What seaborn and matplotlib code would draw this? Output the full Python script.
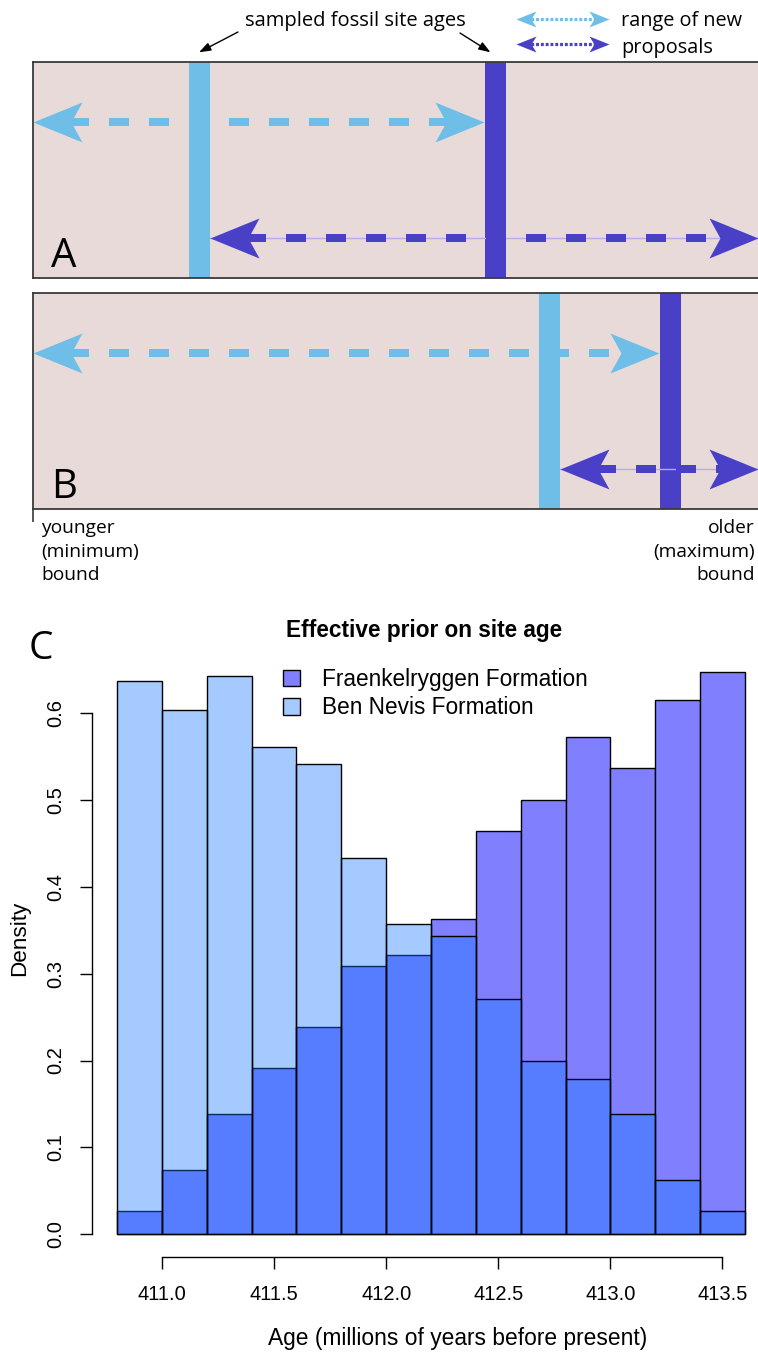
import numpy as np
import matplotlib
matplotlib.use("Agg")
import matplotlib.pyplot as plt
from matplotlib.path import Path
import seaborn as sns

# ── data ──
# histogram bins (left edges, width 0.2 Myr) and densities
bin_left = [410.8, 411.0, 411.2, 411.4, 411.6, 411.8, 412.0,
            412.2, 412.4, 412.6, 412.8, 413.0, 413.2, 413.4]
bin_width = 0.2
fraenkel = [0.027, 0.074, 0.138, 0.191, 0.238, 0.309, 0.321,
            0.363, 0.464, 0.499, 0.572, 0.536, 0.614, 0.647]
ben_nevis = [0.636, 0.603, 0.642, 0.561, 0.541, 0.433, 0.357,
             0.343, 0.271, 0.199, 0.179, 0.138, 0.063, 0.027]
x_ticks = [411.0, 411.5, 412.0, 412.5, 413.0, 413.5]
y_ticks = [0.0, 0.1, 0.2, 0.3, 0.4, 0.5, 0.6]

# schematic panels A/B: site ages as fraction of the (minimum, maximum) bound range
panel_names = ["A", "B"]
site_light = [0.229, 0.712]   # Ben Nevis-like site (light blue)
site_dark = [0.637, 0.878]    # Fraenkelryggen-like site (dark blue)

# ── style ──
W, H = 758, 1353
LIGHT, DARK = "#6EBEE8", "#4A40C8"
BOX = "#E9DADA"
PURPLE = "#8080FF"
BN_RGB = (20 / 255, 118 / 255, 1.0)
BN_ALPHA = 0.38
PX = 72 / 100   # points per pixel at dpi 100

sns.set_style("white")
plt.rcParams["font.family"] = ["Liberation Sans", "DejaVu Sans"]
plt.rcParams["text.color"] = "black"
plt.rcParams["axes.labelcolor"] = "black"
SCHEM_FONT = ["Open Sans", "DejaVu Sans"]

fig = plt.figure(figsize=(W / 100, H / 100), dpi=100)


def fig_box(x0, y0, x1, y1):
    """pixel box (top-left origin) -> figure fraction rect"""
    return [x0 / W, 1 - y1 / H, (x1 - x0) / W, (y1 - y0) / H]


def head(direction, length=49, half=20, notch=38):
    s = 1 if direction == "right" else -1
    verts = [(0, 0), (-s * length, half), (-s * notch, 0), (-s * length, -half), (0, 0)]
    codes = [Path.MOVETO, Path.LINETO, Path.LINETO, Path.LINETO, Path.CLOSEPOLY]
    return Path(verts, codes)


HEAD_R, HEAD_L = head("right"), head("left")
HALF_BAR = 10.5 / 725   # half width of site bar in panel units

# ── panels A and B ──
panel_axes = []
for i, name in enumerate(panel_names):
    top = 62 + i * 231
    ax = fig.add_axes(fig_box(33, top, 758, top + 216))
    ax.set_facecolor(BOX)
    ax.set_xlim(0, 1)
    ax.set_ylim(0, 1)
    for side in ["top", "left", "bottom"]:
        ax.spines[side].set_color("#3a3a3a")
        ax.spines[side].set_linewidth(1.3)
    ax.spines["right"].set_visible(False)
    ax.set_yticks([])
    ax.set_xticks([])

    ax.axvline(site_light[i], color=LIGHT, lw=21 * PX, zorder=2)
    ax.axvline(site_dark[i], color=DARK, lw=21 * PX, zorder=2)

    # range of new proposals for the light site: min bound -> dark site
    yl = 0.72
    x0, x1 = 0.0, site_dark[i] - HALF_BAR
    ax.plot([x0 + 0.05, x1 - 0.05], [yl, yl], color=LIGHT, lw=8 * PX,
            dashes=(2.5, 2.5), dash_capstyle="butt", zorder=3)
    ax.plot([x0], [yl], marker=HEAD_L, ms=98 * PX, color=LIGHT, mew=0, zorder=4, clip_on=False)
    ax.plot([x1], [yl], marker=HEAD_R, ms=98 * PX, color=LIGHT, mew=0, zorder=4, clip_on=False)

    # range of new proposals for the dark site: light site -> max bound
    yd = 0.185
    x0, x1 = site_light[i] + HALF_BAR, 1.0
    ax.plot([x0, x1], [yd, yd], color="#B4ACE6", lw=1.0, zorder=3)
    ax.plot([x0 + 0.05, x1 - 0.05], [yd, yd], color=DARK, lw=8 * PX,
            dashes=(2.5, 2.5), dash_capstyle="butt", zorder=3)
    ax.plot([x0], [yd], marker=HEAD_L, ms=98 * PX, color=DARK, mew=0, zorder=4, clip_on=False)
    ax.plot([x1], [yd], marker=HEAD_R, ms=98 * PX, color=DARK, mew=0, zorder=4, clip_on=False)

    ax.text(0.025, 0.05, name, transform=ax.transAxes, fontsize=29,
            family=SCHEM_FONT, color="black", va="baseline", ha="left")
    panel_axes.append(ax)

axA, axB = panel_axes

# pointer arrows from the caption to the site bars in panel A
fig.text(355 / W, 1 - 21 / H, "sampled fossil site ages", ha="center", va="center",
         fontsize=14.5, family=SCHEM_FONT)
for sx, txt_xy in [(site_light[0], (238, 32)), (site_dark[0] - 0.006, (460, 33))]:
    axA.annotate("", xy=(sx, 1.045), xycoords=("data", "axes fraction"),
                 xytext=(txt_xy[0], H - txt_xy[1]), textcoords="figure pixels",
                 arrowprops=dict(arrowstyle="-|>,head_length=0.7,head_width=0.25",
                                 color="black", lw=1.0, shrinkA=0, shrinkB=0))

# bottom bound tick and labels under panel B
axB.set_xticks([0.0])
axB.tick_params(axis="x", direction="out", length=13 * PX, width=1.2,
                color="#3a3a3a", labelbottom=False, bottom=True)
for k, (left_txt, right_txt) in enumerate([("younger", "older"),
                                          ("(minimum)", "(maximum)"),
                                          ("bound", "bound")]):
    yy = 1 - (528 + k * 23.5) / H
    fig.text(41 / W, yy, left_txt, ha="left", va="center", fontsize=13.8, family=SCHEM_FONT)
    fig.text(755 / W, yy, right_txt, ha="right", va="center", fontsize=13.8, family=SCHEM_FONT)

# small legend arrows, top right
leg = fig.add_axes([0, 0, 1, 1], zorder=5)
leg.set_xlim(0, W)
leg.set_ylim(H, 0)
leg.axis("off")
small_r = head("right", 20, 8, 15)
small_l = head("left", 20, 8, 15)
for yy, col in [(19, LIGHT), (44, DARK)]:
    leg.plot([526, 599], [yy, yy], color=col, lw=3.2 * PX, dashes=(0.9, 0.6),
             dash_capstyle="butt")
    leg.plot([516], [yy], marker=small_l, ms=40 * PX, color=col, mew=0)
    leg.plot([609], [yy], marker=small_r, ms=40 * PX, color=col, mew=0)
leg.text(621, 21, "range of new", ha="left", va="center", fontsize=14.3, family=SCHEM_FONT)
leg.text(621, 48, "proposals", ha="left", va="center", fontsize=14.3, family=SCHEM_FONT)

fig.text(29 / W, 1 - 649 / H, "C", ha="left", va="center", fontsize=28, family=SCHEM_FONT)

# ── panel C: effective prior on site age ──
edges = bin_left + [bin_left[-1] + bin_width]
mids = [b + bin_width / 2 for b in bin_left]

axC = fig.add_axes(fig_box(92, 648.3, 770, 1257))
sns.histplot(x=mids, weights=fraenkel, bins=edges, stat="count", color=PURPLE,
             alpha=1.0, edgecolor="black", linewidth=1.0, ax=axC)
n_f = len(axC.patches)
sns.histplot(x=mids, weights=ben_nevis, bins=edges, stat="count", color=BN_RGB,
             alpha=BN_ALPHA, edgecolor="black", linewidth=1.0, ax=axC)

axC.set_xlim(410.688, 413.712)
axC.set_ylim(-0.02592, 0.67392)
axC.set_xticks(x_ticks)
axC.set_xticklabels([f"{v:.1f}" for v in x_ticks])
axC.set_yticks(y_ticks)
axC.set_yticklabels([f"{v:.1f}" for v in y_ticks], rotation=90, va="center")
axC.spines["top"].set_visible(False)
axC.spines["right"].set_visible(False)
axC.spines["bottom"].set_bounds(x_ticks[0], x_ticks[-1])
axC.spines["left"].set_bounds(y_ticks[0], y_ticks[-1])
for s in ["bottom", "left"]:
    axC.spines[s].set_linewidth(1.0)
    axC.spines[s].set_color("black")
axC.tick_params(axis="both", direction="out", length=12 * PX, width=1.0,
                labelsize=14.5, colors="black", left=True, bottom=True)
axC.tick_params(axis="x", pad=16 * PX)
axC.tick_params(axis="y", pad=15 * PX)
axC.set_xlabel("")
axC.set_ylabel("")

fig.text(424 / W, 1 - 631 / H, "Effective prior on site age", ha="center", va="center",
         fontsize=16.3, fontweight="bold")
fig.text(458 / W, 1 - 1338 / H, "Age (millions of years before present)", ha="center",
         va="center", fontsize=16.4)
fig.text(20 / W, 1 - 938 / H, "Density", ha="center", va="center", rotation=90, fontsize=16.2)

axC.legend([axC.patches[0], axC.patches[n_f]],
           ["Fraenkelryggen Formation", "Ben Nevis Formation"],
           loc="upper left", bbox_to_anchor=(283 / W, 1 - 668 / H),
           bbox_transform=fig.transFigure, frameon=False, fontsize=16.3,
           handlelength=0.76, handleheight=0.76, handletextpad=0.95,
           labelspacing=0.24, borderpad=0, borderaxespad=0)

fig.savefig("out.png", dpi=100)
